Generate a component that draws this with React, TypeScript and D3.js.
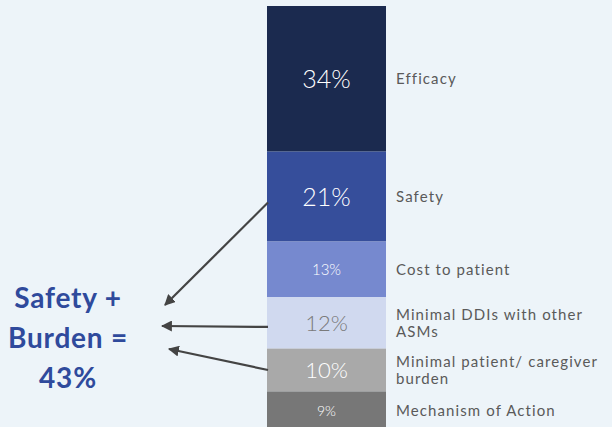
import React from "react";
import * as d3 from "d3";

const categories = [
  "Efficacy",
  "Safety",
  "Cost to patient",
  "Minimal DDIs with other ASMs",
  "Minimal patient/ caregiver burden",
  "Mechanism of Action",
];
const values = [34, 21, 13, 12, 10, 9];
const labelLines = [
  ["Efficacy"],
  ["Safety"],
  ["Cost to patient"],
  ["Minimal DDIs with other", "ASMs"],
  ["Minimal patient/ caregiver", "burden"],
  ["Mechanism of Action"],
];
const colors = ["#1b2a4f", "#364e9b", "#7689cf", "#d0d9ef", "#a9a9a9", "#777777"];
const valueColors = ["#ffffff", "#ffffff", "#ffffff", "#7a7a7a", "#ffffff", "#ffffff"];
const valueSizes = [25, 25, 15, 22, 22, 14];
const annotationLines = ["Safety +", "Burden =", "43%"];
const arrowSources = ["Safety", "Minimal DDIs with other ASMs", "Minimal patient/ caregiver burden"];

const W = 612;
const H = 427;
const FONT = "Lato, 'Open Sans', sans-serif";

export default function App() {
  const total = d3.sum(values);
  const y = d3.scaleLinear().domain([0, total]).range([6, 430]);
  const x = d3.scaleBand().domain(["bar"]).range([267, 386]).padding(0);

  let cum = 0;
  const segs = values.map((v, i) => {
    const s = { cat: categories[i], v, y0: y(cum), y1: y(cum + v), i };
    cum += v;
    return s;
  });
  const segByCat = new Map(segs.map((s) => [s.cat, s]));

  const bx = x("bar")!;
  const bw = x.bandwidth();

  const arrowTips: [number, number][] = [
    [165, 305],
    [162, 326],
    [169, 349],
  ];
  const arrowOffsets = [6, 4, 0];

  return (
    <svg
      width={W}
      height={H}
      style={{ position: "fixed", left: 0, top: 0, background: "#edf4f9" }}
    >
      <defs>
        <marker
          id="ah"
          viewBox="0 0 10 10"
          refX="9"
          refY="5"
          markerWidth="5"
          markerHeight="5"
          orient="auto"
        >
          <path d="M0,0 L10,5 L0,10 z" fill="#444" />
        </marker>
      </defs>
      <rect x={0} y={0} width={W} height={H} fill="#edf4f9" />
      {segs.map((s) => (
        <g key={s.cat}>
          <rect x={bx} y={s.y0} width={bw} height={s.y1 - s.y0} fill={colors[s.i]} />
          <text
            x={bx + bw / 2}
            y={(s.y0 + s.y1) / 2}
            dy="0.36em"
            textAnchor="middle"
            fill={valueColors[s.i]}
            fontSize={valueSizes[s.i]}
            fontFamily={FONT}
            fontWeight={300}
          >
            {s.v}%
          </text>
          {labelLines[s.i].map((ln, k) => {
            const n = labelLines[s.i].length;
            const mid = Math.min((s.y0 + s.y1) / 2, s.i === 5 ? 411 : 1000);
            return (
              <text
                key={k}
                x={396}
                y={mid + (k - (n - 1) / 2) * 17}
                dy="0.36em"
                fill="#5a5a5a"
                fontSize={15}
                letterSpacing={1.1}
                fontFamily={FONT}
              >
                {ln}
              </text>
            );
          })}
        </g>
      ))}
      {arrowSources.map((c, k) => {
        const s = segByCat.get(c)!;
        const sy = (s.y0 + s.y1) / 2 + arrowOffsets[k];
        return (
          <line
            key={c}
            x1={bx + 1}
            y1={sy}
            x2={arrowTips[k][0]}
            y2={arrowTips[k][1]}
            stroke="#444"
            strokeWidth={2.2}
            markerEnd="url(#ah)"
          />
        );
      })}
      {annotationLines.map((t, k) => (
        <text
          key={t}
          x={68}
          y={308 + k * 40}
          textAnchor="middle"
          fill="#2f4a9c"
          fontSize={28}
          letterSpacing={0.8}
          fontWeight={700}
          fontFamily={FONT}
        >
          {t}
        </text>
      ))}
    </svg>
  );
}
